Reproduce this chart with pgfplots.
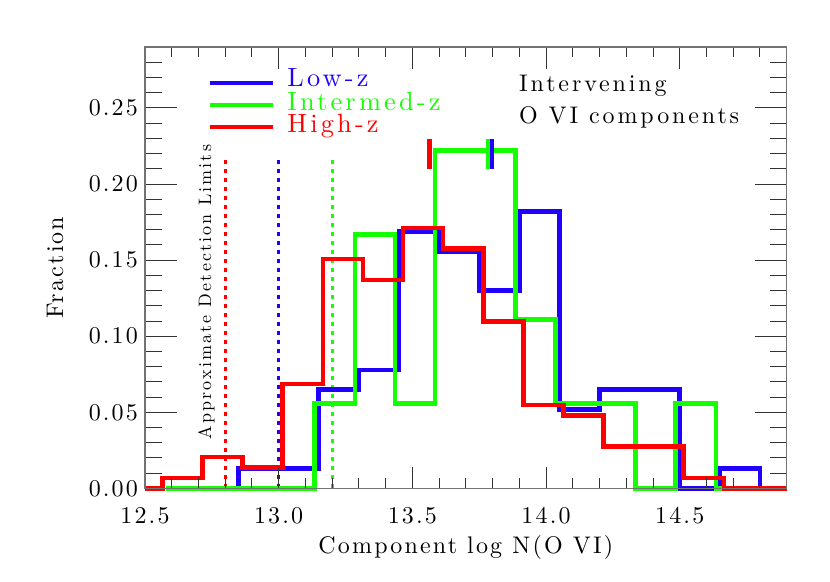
\documentclass[border=0pt]{standalone}
\usepackage{fontspec}
\setmainfont{lmroman10-regular.otf}
\newfontfamily\smA{lmroman10-regular.otf}[LetterSpace=9]
\newfontfamily\smB{lmroman10-regular.otf}[LetterSpace=12]
\usepackage{pgfplots}
\pgfplotsset{compat=1.18}
\definecolor{cblue}{RGB}{32,0,255}
\definecolor{cgreen}{RGB}{20,255,0}
\definecolor{cred}{RGB}{255,0,0}
\begin{document}
\begin{tikzpicture}
\useasboundingbox (-72.5pt,-46.35pt) rectangle (342.5pt,244.2pt);
\pgfplotsset{
  common/.style={
    at={(0pt,0pt)}, anchor=south west,
    scale only axis, width=320.85pt, height=220.65pt,
    xmin=12.5, xmax=14.9, ymin=0, ymax=0.29,
    axis line style={black!55, line width=0.6pt},
    every tick/.style={black!80, line width=0.5pt},
    /pgf/number format/assume math mode=true,
    tick label style={font=\fontsize{12}{14}\smA},
    label style={font=\fontsize{12}{14}\smA},
  }
}
% axis with y ticks and the data
\begin{axis}[common,
  clip=false,
  xtick=\empty,
  ytick={0,0.05,0.1,0.15,0.2,0.25},
  minor ytick={0.01,0.02,0.03,0.04,0.06,0.07,0.08,0.09,0.11,0.12,0.13,0.14,0.16,0.17,0.18,0.19,0.21,0.22,0.23,0.24,0.26,0.27,0.28},
  major tick length=16pt, minor tick length=8.3pt,
  /pgf/number format/fixed, /pgf/number format/fixed zerofill, /pgf/number format/precision=2,
  ylabel={Fraction},
  ylabel style={at={(axis description cs:-0.14,0.5)}, anchor=center},
]
% detection limits
\addplot[cred, line width=1.6pt, dash pattern=on 2pt off 2.5pt] coordinates {(12.8,0) (12.8,0.218)};
\addplot[cblue, line width=1.6pt, dash pattern=on 2pt off 2.5pt] coordinates {(13.0,0) (13.0,0.218)};
\addplot[cgreen, line width=1.6pt, dash pattern=on 2pt off 2.5pt] coordinates {(13.2,0) (13.2,0.218)};
% Low-z
\addplot[cblue, line width=2.3pt, const plot, mark=none] coordinates {
(12.85,0) (12.85,0.0130) (13.0,0.0130) (13.15,0.0649) (13.3,0.0779) (13.45,0.1688)
(13.6,0.1558) (13.75,0.1299) (13.9,0.1818) (14.05,0.0519) (14.2,0.0649) (14.35,0.0649)
(14.5,0) (14.65,0.0130) (14.8,0) (14.85,0)};
% Intermed-z
\addplot[cgreen, line width=2.3pt, const plot, mark=none] coordinates {
(12.58,0) (13.135,0.0556) (13.285,0.1667) (13.435,0.0556) (13.585,0.2222) (13.735,0.2222)
(13.885,0.1111) (14.035,0.0556) (14.185,0.0556) (14.335,0) (14.485,0.0556) (14.635,0) (14.75,0)};
% High-z
\addplot[cred, line width=2.3pt, const plot, mark=none] coordinates {
(12.5,0) (12.565,0.00685) (12.715,0.0205) (12.865,0.0137) (13.015,0.0685) (13.165,0.1507)
(13.315,0.1370) (13.465,0.1712) (13.615,0.1575) (13.765,0.1096) (13.915,0.0548)
(14.065,0.0479) (14.215,0.0274) (14.365,0.0274) (14.515,0.00685) (14.665,0) (14.9,0)};
% means
\addplot[cred, line width=2.3pt] coordinates {(13.564,0.2098) (13.564,0.2294)};
\addplot[cgreen, line width=2.1pt] coordinates {(13.785,0.2098) (13.785,0.2294)};
\addplot[cblue, line width=2.3pt] coordinates {(13.7985,0.2098) (13.7985,0.2294)};
% legend
\addplot[cblue, line width=2pt] coordinates {(12.7416,0.2662) (12.9802,0.2662)};
\addplot[cgreen, line width=2pt] coordinates {(12.7416,0.2520) (12.9802,0.2520)};
\addplot[cred, line width=2pt] coordinates {(12.7416,0.2375) (12.9802,0.2375)};
\node[anchor=base west, inner sep=0pt] at (axis cs:13.031,0.2643) {\fontsize{13.2}{15}\smB\color{cblue}Low-z};
\node[anchor=base west, inner sep=0pt] at (axis cs:13.031,0.2484) {\fontsize{13.2}{15}\smB\color{cgreen}Intermed-z};
\node[anchor=base west, inner sep=0pt] at (axis cs:13.031,0.2342) {\fontsize{13.2}{15}\smB\color{cred}High-z};
\node[anchor=base west, inner sep=0pt] at (axis cs:13.898,0.2608) {\fontsize{12}{14}\smB Intervening};
\node[anchor=base west, inner sep=0pt] at (axis cs:13.898,0.2396) {\fontsize{12}{14}\smB O VI components};
\node[rotate=90, anchor=center, inner sep=0pt] at (axis cs:12.73,0.129) {\fontsize{9}{11}\smB Approximate Detection Limits};
\end{axis}
% axis with x ticks
\begin{axis}[common,
  ytick=\empty,
  xtick={12.5,13,13.5,14,14.5},
  minor xtick={12.6,12.7,12.8,12.9,13.1,13.2,13.3,13.4,13.6,13.7,13.8,13.9,14.1,14.2,14.3,14.4,14.6,14.7,14.8},
  major tick length=10.8pt, minor tick length=5pt,
  /pgf/number format/fixed, /pgf/number format/fixed zerofill, /pgf/number format/precision=1,
  xticklabel style={yshift=-6pt},
  xlabel={Component log N(O VI)},
  xlabel style={at={(axis description cs:0.5,-0.134)}, anchor=center},
]
\end{axis}
\end{tikzpicture}
\end{document}
